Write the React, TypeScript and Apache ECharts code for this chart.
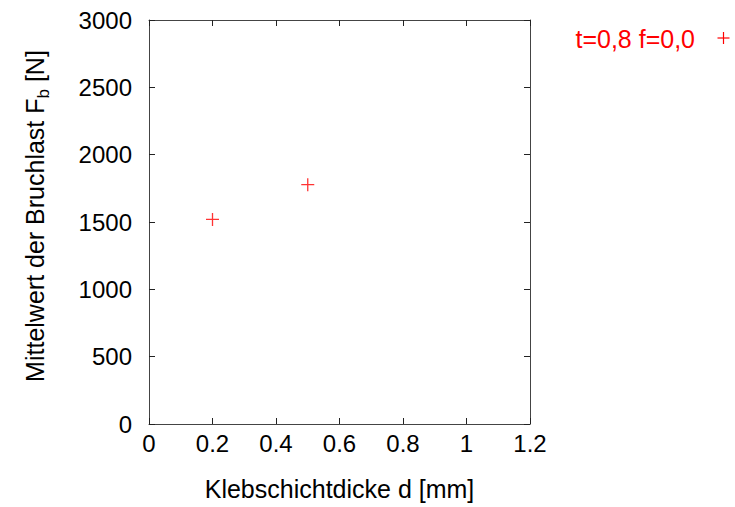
import React, { useEffect, useRef } from "react";
import * as echarts from "echarts";

const seriesName = "t=0,8 f=0,0";
const thickness = [0.2, 0.5];
const breakLoad = [1519, 1777];
const xTicks = [0, 0.2, 0.4, 0.6, 0.8, 1, 1.2];
const yTicks = [0, 500, 1000, 1500, 2000, 2500, 3000];
const xTitle = "Klebschichtdicke d [mm]";
const yTitleMain = "Mittelwert der Bruchlast F";
const yTitleSub = "b";
const yTitleEnd = " [N]";

const FONT = "'Liberation Sans', Arial, Helvetica, sans-serif";
const RED = "#ff0000";
const PLUS = "path://M0,5.4H12V6.6H0Z M5.4,0H6.6V12H5.4Z";

export default function App() {
  const ref = useRef<HTMLDivElement>(null);
  useEffect(() => {
    const chart = echarts.init(ref.current!, null, { renderer: "svg" });
    const axisLine = { show: true, onZero: false, lineStyle: { color: "#444", width: 1 } };
    const tick = { show: true, inside: true, length: 6, lineStyle: { color: "#222" } };
    const fmt = (v: number) => String(v);
    chart.setOption({
      animation: false,
      backgroundColor: "#fff",
      textStyle: { fontFamily: FONT },
      grid: { left: 149, right: 205, top: 20, bottom: 83, containLabel: false },
      xAxis: [
        {
          type: "value",
          min: xTicks[0],
          max: xTicks[xTicks.length - 1],
          interval: 0.2,
          axisLine,
          axisTick: tick,
          splitLine: { show: false },
          axisLabel: { fontSize: 24, color: "#000", margin: 7, fontFamily: FONT, formatter: fmt },
          name: xTitle,
          nameLocation: "middle",
          nameGap: 52,
          nameTextStyle: { fontSize: 25, color: "#000", fontFamily: FONT },
        },
        {
          type: "value",
          position: "top",
          min: xTicks[0],
          max: xTicks[xTicks.length - 1],
          interval: 0.2,
          axisLine,
          axisTick: tick,
          splitLine: { show: false },
          axisLabel: { show: false },
        },
      ],
      yAxis: [
        {
          type: "value",
          position: "left",
          min: yTicks[0],
          max: yTicks[yTicks.length - 1],
          interval: 500,
          axisLine,
          axisTick: tick,
          splitLine: { show: false },
          axisLabel: { fontSize: 24, color: "#000", margin: 17, fontFamily: FONT, formatter: fmt },
        },
        {
          type: "value",
          position: "right",
          min: yTicks[0],
          max: yTicks[yTicks.length - 1],
          interval: 500,
          axisLine,
          axisTick: tick,
          splitLine: { show: false },
          axisLabel: { show: false },
        },
      ],
      series: [
        {
          name: seriesName,
          type: "scatter",
          symbol: PLUS,
          symbolSize: 13,
          itemStyle: { color: RED },
          data: thickness.map((x, i) => [x, breakLoad[i]]),
        },
      ],
      graphic: [
        {
          type: "text",
          x: 37,
          y: 216,
          rotation: Math.PI / 2,
          style: {
            text: `{a|${yTitleMain}}{s|${yTitleSub}}{a|${yTitleEnd}}`,
            align: "center",
            verticalAlign: "middle",
            fontFamily: FONT,
            rich: {
              a: { fontSize: 25, fill: "#000", fontFamily: FONT, lineHeight: 30, verticalAlign: "top" },
              s: { fontSize: 17, fill: "#000", fontFamily: FONT, lineHeight: 30, verticalAlign: "bottom", padding: [11, 0, 0, 0] },
            },
          },
        },
        {
          type: "text",
          x: 695,
          y: 39,
          style: {
            text: seriesName,
            align: "right",
            verticalAlign: "middle",
            fontSize: 25,
            fill: RED,
            fontFamily: FONT,
          },
        },
        {
          type: "rect",
          shape: { x: 717.5, y: 37.4, width: 12, height: 1.2 },
          style: { fill: RED },
        },
        {
          type: "rect",
          shape: { x: 722.9, y: 32, width: 1.2, height: 12 },
          style: { fill: RED },
        },
      ],
    });
    return () => chart.dispose();
  }, []);
  return <div ref={ref} style={{ position: "fixed", left: 0, top: 0, width: 735, height: 507 }} />;
}
